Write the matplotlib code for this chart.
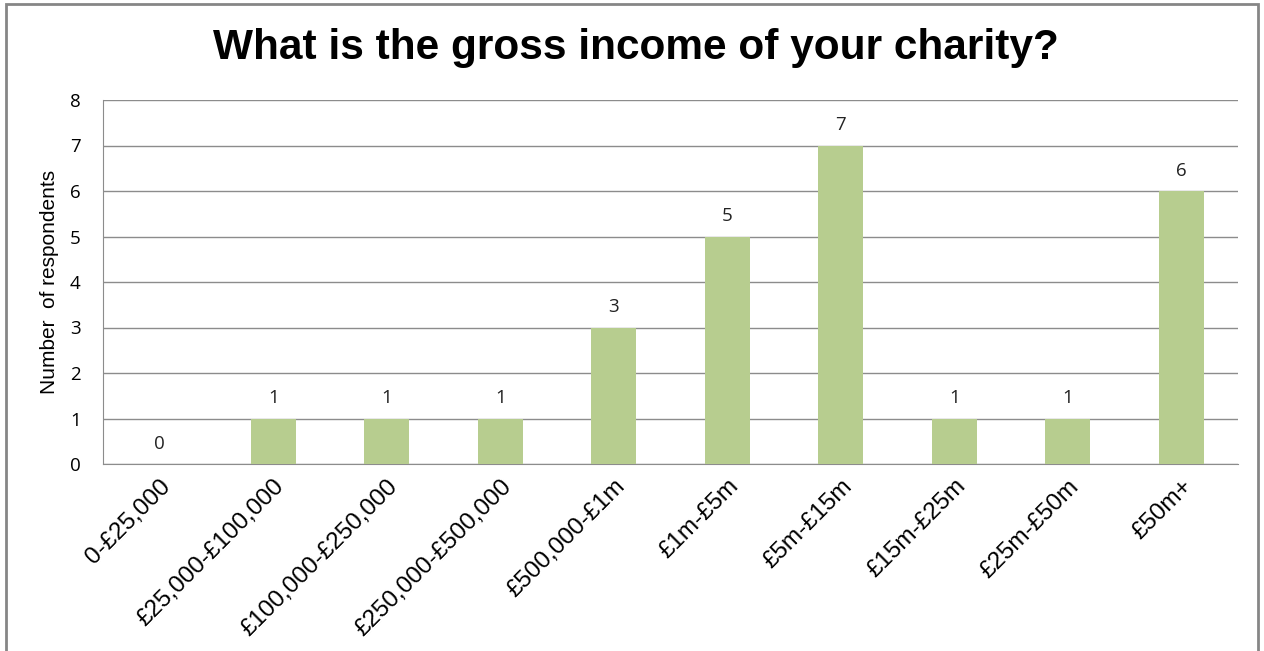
import matplotlib.pyplot as plt
from matplotlib.patches import Rectangle

categories = ['0-£25,000', '£25,000-£100,000', '£100,000-£250,000', '£250,000-£500,000',
              '£500,000-£1m', '£1m-£5m', '£5m-£15m', '£15m-£25m', '£25m-£50m', '£50m+']
counts = [0, 1, 1, 1, 3, 5, 7, 1, 1, 6]
y_ticks = [0, 1, 2, 3, 4, 5, 6, 7, 8]

W, H = 1264, 651
fig = plt.figure(figsize=(W / 100, H / 100), dpi=100)
fig.patch.set_facecolor('white')

# outer chart border
fig.add_artist(Rectangle((6 / W, -0.01), 1252 / W, 1 - 4 / H + 0.01, transform=fig.transFigure,
                         fill=False, edgecolor='#868686', linewidth=2))

ax = fig.add_axes([103 / W, 1 - 464 / H, 1135 / W, 364 / H])
x = range(len(categories))
bars = ax.bar(x, counts, width=0.4, color='#b7cd8f', zorder=3)
for xi, v in zip(x, counts):
    ax.text(xi, v + 0.25, str(v), ha='center', va='bottom', fontsize=13.5,
            family='Open Sans', color='#222222')

ax.set_xlim(-0.5, len(categories) - 0.5)
ax.set_ylim(0, 8)
ax.set_yticks(y_ticks)
ax.set_yticklabels([str(t) for t in y_ticks], family='Open Sans', fontsize=13.5)
ax.grid(axis='y', color='#8c8c8c', linewidth=1, zorder=0)
ax.tick_params(axis='y', length=0, pad=16)
ax.tick_params(axis='x', length=0, pad=8)
ax.set_xticks(list(x))
ax.set_xticklabels(categories, rotation=45, ha='right', va='top', rotation_mode='anchor',
                   family='Liberation Sans', fontsize=17.5)
for s in ['top', 'right']:
    ax.spines[s].set_visible(False)
ax.spines['left'].set_color('#8c8c8c')
ax.spines['bottom'].set_color('#8c8c8c')

ax.set_ylabel('Number  of respondents', family='Liberation Sans', fontsize=15, labelpad=8)

fig.text(0.5 + 4 / W, 1 - 48 / H, 'What is the gross income of your charity?', ha='center',
         va='center', family='Liberation Sans', fontweight='bold', fontsize=30.5)

fig.savefig('out.png', dpi=100)
